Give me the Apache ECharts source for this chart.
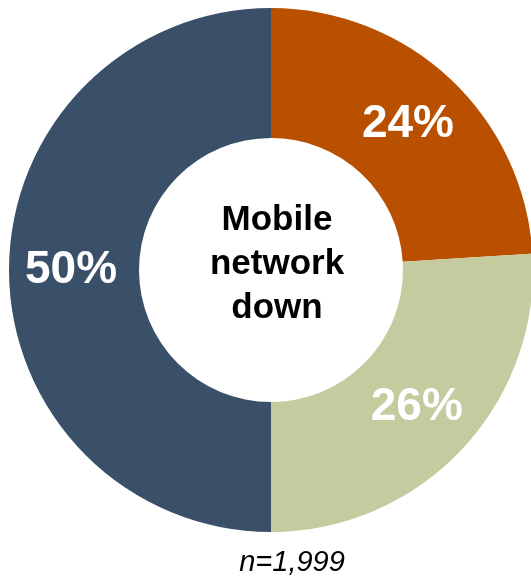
<!DOCTYPE html>
<html><head><meta charset="utf-8">
<script src="https://cdn.jsdelivr.net/npm/echarts@6/dist/echarts.min.js"></script>
<style>html,body{margin:0;padding:0;background:#fff}#c{width:531px;height:577px}</style>
</head><body><div id="c"></div>
<script>
const categories = ['A', 'B', 'C'];
const values = [24, 26, 50];
const colors = ['#B85000', '#C5CA9F', '#3A4F68'];
const centerLabel = 'Mobile\nnetwork\ndown';
const note = 'n=1,999';

const chart = echarts.init(document.getElementById('c'));
chart.setOption({
  animation: false,
  series: [{
    type: 'pie',
    center: [271, 270],
    radius: [132, 262],
    startAngle: 90,
    clockwise: true,
    data: categories.map((c, i) => ({ name: c, value: values[i], itemStyle: { color: colors[i] } })),
    label: {
      position: 'inside',
      formatter: p => p.value + '%',
      color: '#fff',
      fontFamily: 'Liberation Sans, Arial',
      fontWeight: 'bold',
      fontSize: 46
    },
    labelLine: { show: false },
    emphasis: { disabled: true }
  }],
  graphic: [
    { type: 'text',
      style: { text: centerLabel, x: 277, y: 264, textAlign: 'center', textVerticalAlign: 'middle',
        font: 'bold 35px "Liberation Sans", Arial', lineHeight: 44, fill: '#000' } },
    { type: 'text',
      style: { text: note, x: 292, y: 563, textAlign: 'center', textVerticalAlign: 'middle',
        font: 'italic 29px "Liberation Sans", Arial', fill: '#000' } }
  ]
});
</script></body></html>
